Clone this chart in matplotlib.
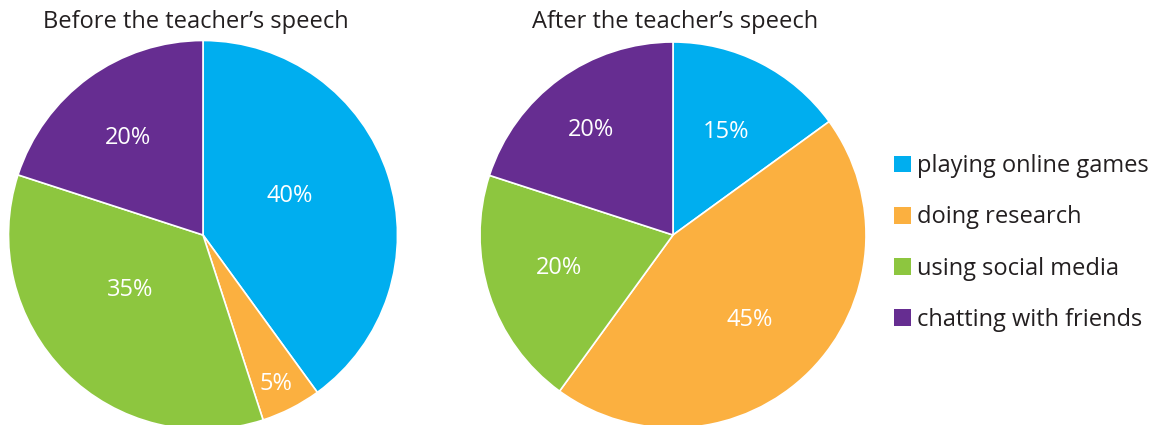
import numpy as np
import matplotlib.pyplot as plt
from matplotlib.patches import Patch

categories = ['playing online games', 'doing research', 'using social media', 'chatting with friends']
before = [40, 5, 35, 20]
after = [15, 45, 20, 20]
titles = ['Before the teacher\u2019s speech', 'After the teacher\u2019s speech']

colors = ['#00AEEF', '#FBB040', '#8DC63F', '#662D91']
# label placement: fraction of radius and small angle nudge (deg) per wedge
before_dist = [0.49, 0.85, 0.47, 0.63]
before_nudge = [6, -1, -8, 2]
after_dist = [0.6, 0.59, 0.615, 0.69]
after_nudge = [0, -3, -2, 2]

plt.rcParams['font.family'] = ['Open Sans', 'DejaVu Sans']
fig = plt.figure(figsize=(11.64, 4.25), dpi=100)

def draw_pie(rect, values, dists, nudges):
    ax = fig.add_axes(rect)
    wedges, texts, autotexts = ax.pie(
        values, colors=colors, startangle=90, counterclock=False,
        autopct='%d%%', pctdistance=0.5,
        wedgeprops=dict(edgecolor='white', linewidth=1.2),
        textprops=dict(color='white', fontsize=17))
    for w, t, d, n in zip(wedges, autotexts, dists, nudges):
        ang = np.deg2rad((w.theta1 + w.theta2) / 2 + n)
        t.set_position((d * np.cos(ang), d * np.sin(ang)))
    ax.set_xlim(-1, 1)
    ax.set_ylim(-1, 1)
    ax.set_aspect('equal')
    ax.axis('off')
    return ax

draw_pie([8.5 / 1164, -4.5 / 425, 389 / 1164, 389 / 425], before, before_dist, before_nudge)
draw_pie([480 / 1164, -3 / 425, 386 / 1164, 386 / 425], after, after_dist, after_nudge)

fig.text(196 / 1164, 1 - 22 / 425, titles[0], ha='center', va='center', fontsize=17, color='#231F20')
fig.text(675 / 1164, 1 - 22 / 425, titles[1], ha='center', va='center', fontsize=17, color='#231F20')

handles = [Patch(facecolor=c, edgecolor='none') for c in colors]
fig.legend(handles, categories, loc='upper left', bbox_to_anchor=(873 / 1164, 1 - 133 / 425),
           frameon=False, fontsize=17, handlelength=0.72, handleheight=0.72,
           handletextpad=0.25, labelspacing=1.15, labelcolor='#231F20')

fig.savefig('out.png', dpi=100)
